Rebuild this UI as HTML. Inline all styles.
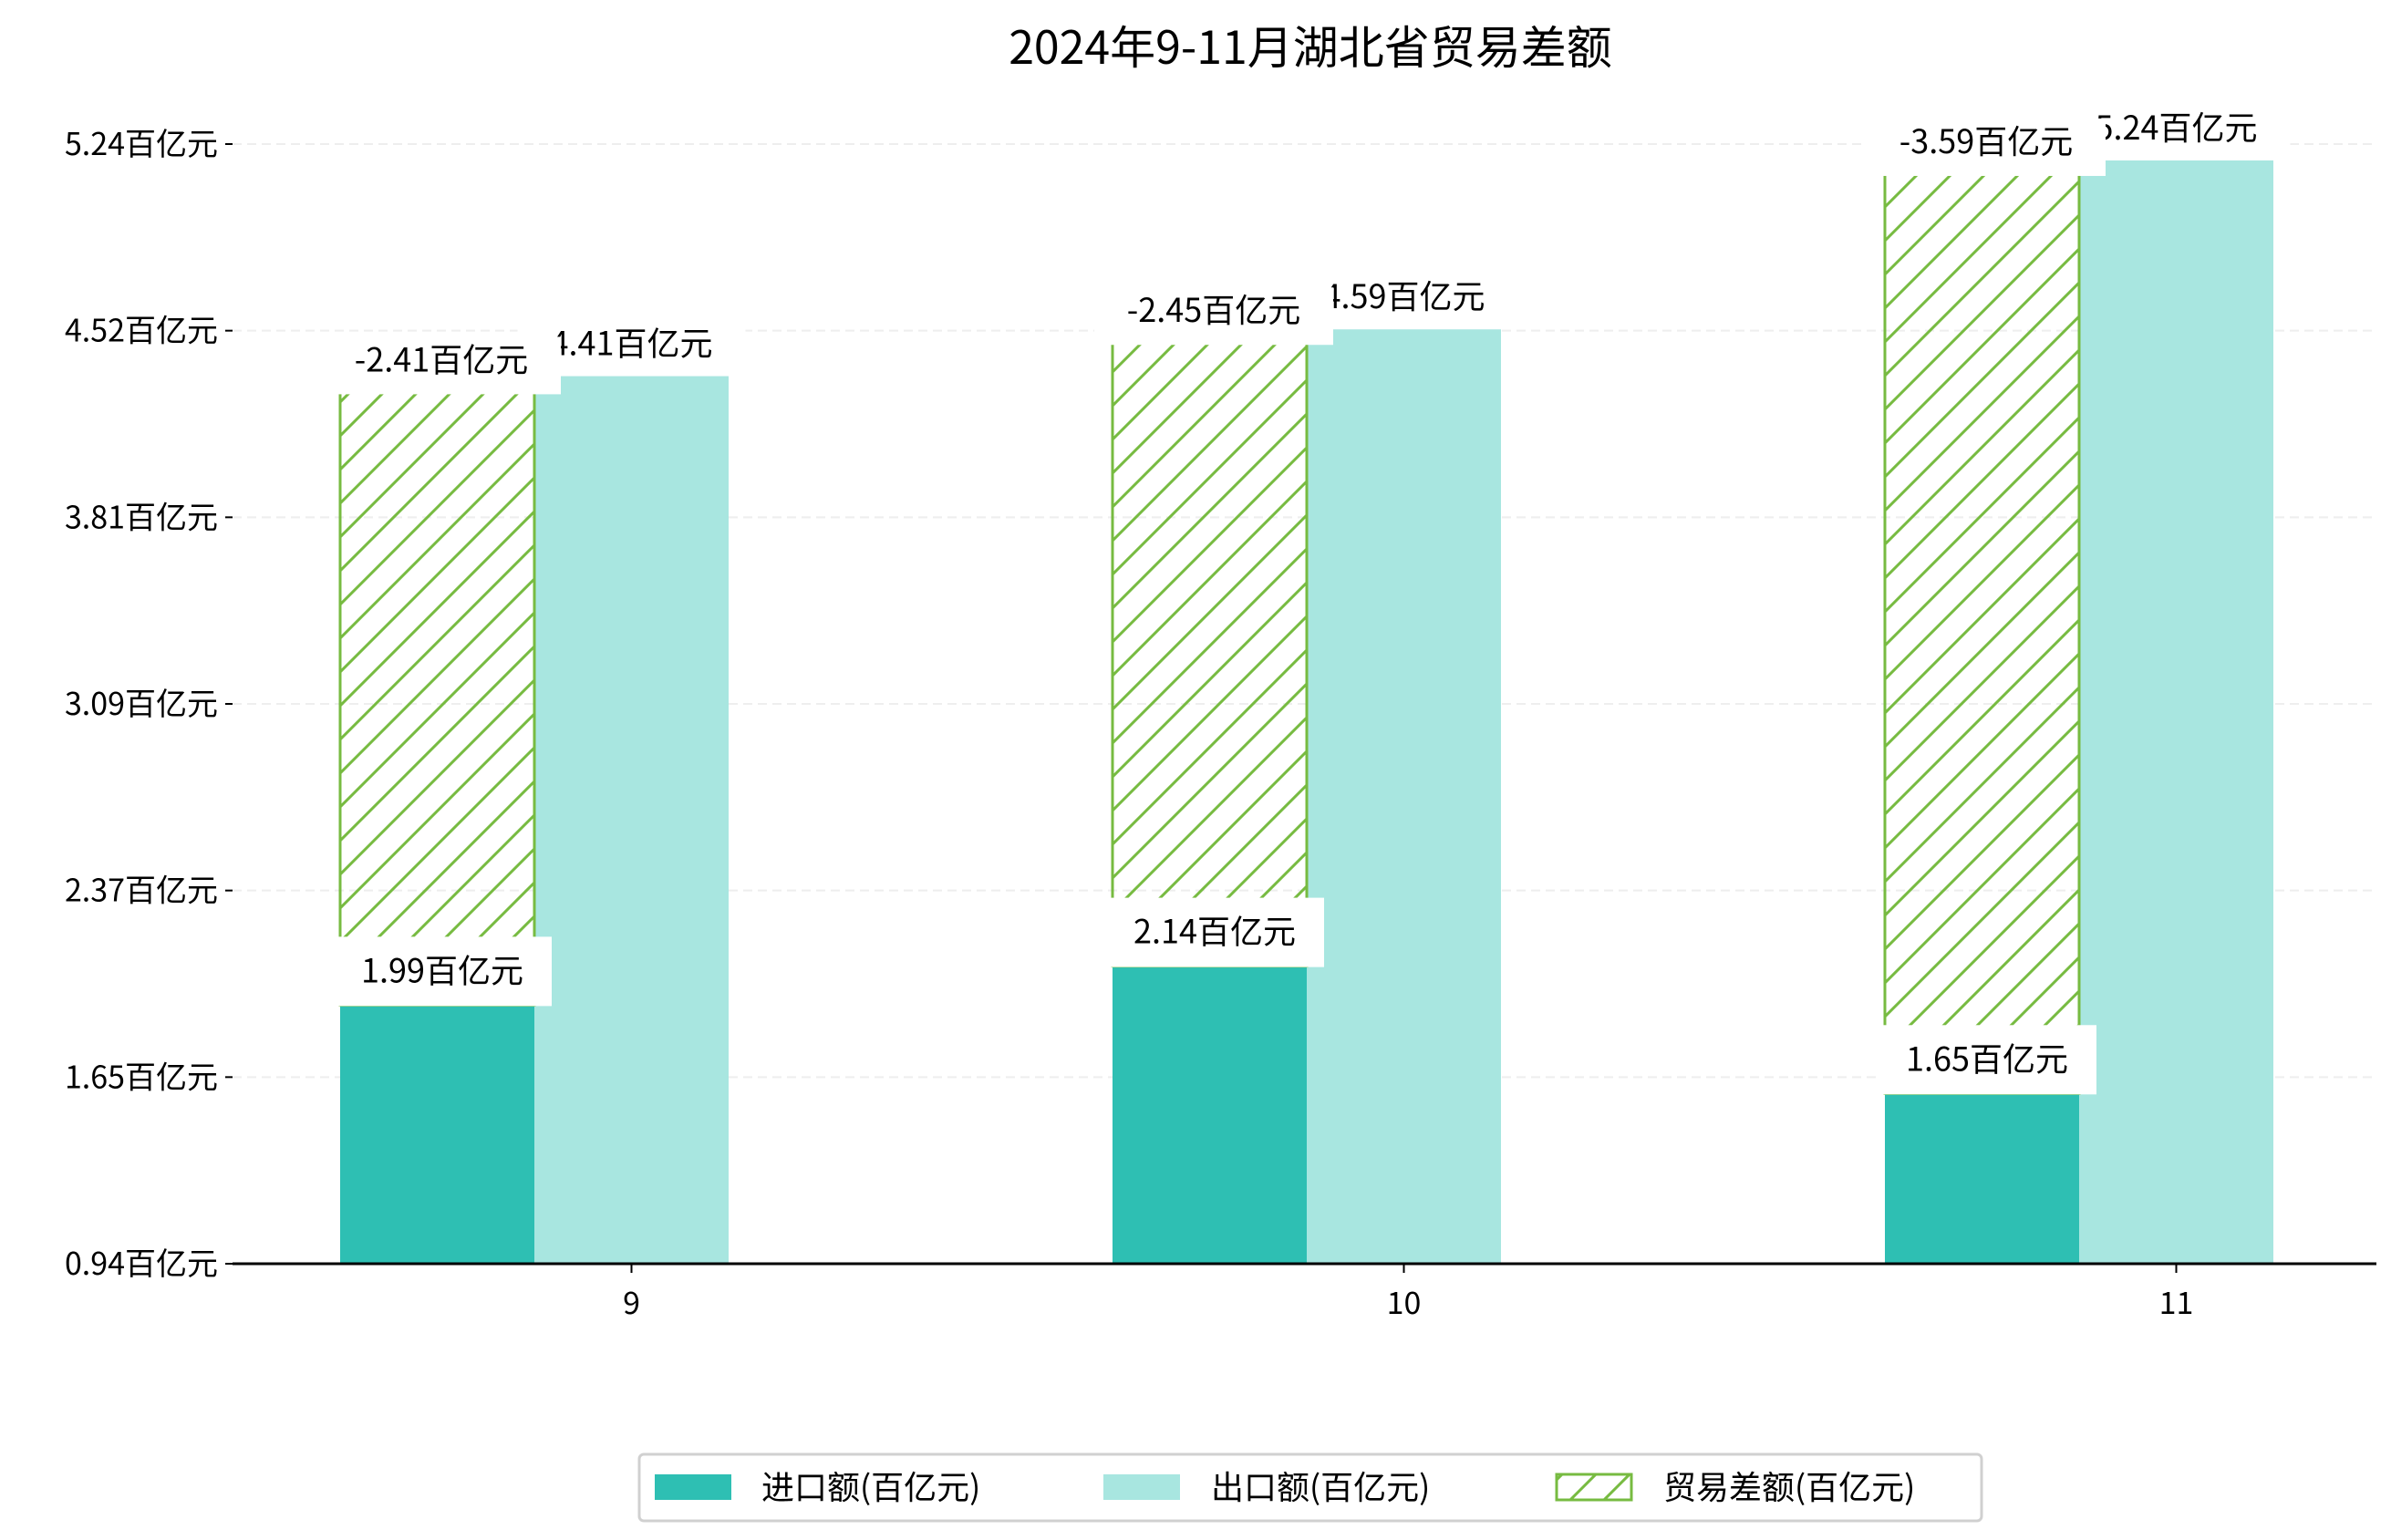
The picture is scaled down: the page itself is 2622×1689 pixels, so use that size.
<!DOCTYPE html>
<html><head><meta charset="utf-8">
<style>
html,body{margin:0;padding:0;background:#fff;}
svg{display:block;font-family:"WenQuanYi Zen Hei","Noto Sans CJK SC",sans-serif;}
</style></head>
<body>
<svg id="chart" width="2622" height="1689" viewBox="0 0 2622 1689" xmlns="http://www.w3.org/2000/svg">
<defs>
<pattern id="hatch" patternUnits="userSpaceOnUse" width="37" height="37">
<path d="M-5,42 L42,-5 M-5,5 L5,-5 M32,42 L42,32" stroke="#77bb41" stroke-width="3"/>
</pattern>
</defs>
<text x="1437" y="70" text-anchor="middle" font-size="50" fill="#000">2024年9-11月湖北省贸易差额</text>
<g id="grid"></g>
<g id="bars"></g>
<g id="labels"></g>
<g id="axes"></g>
<g>
<rect x="701" y="1595" width="1472" height="73" rx="5" fill="#fff" stroke="#d0d0d0" stroke-width="3"/>
<rect x="718" y="1617" width="84" height="28" fill="#2ebfb3"/>
<text x="835" y="1644" font-size="36">进口额(百亿元)</text>
<rect x="1210" y="1617" width="84" height="28" fill="#a8e6e0"/>
<text x="1328" y="1644" font-size="36">出口额(百亿元)</text>
<rect x="1707" y="1617" width="82" height="28" fill="url(#hatch)" stroke="#77bb41" stroke-width="3"/>
<text x="1824" y="1644" font-size="36">贸易差额(百亿元)</text>
</g>
</svg>
<script>
const categories = ["9", "10", "11"];
const importVals = [1.99, 2.14, 1.65];
const exportVals = [4.41, 4.59, 5.24];
const balanceVals = [-2.41, -2.45, -3.59];
const tickLabels = ["0.94百亿元","1.65百亿元","2.37百亿元","3.09百亿元","3.81百亿元","4.52百亿元","5.24百亿元"];

const NS = "http://www.w3.org/2000/svg";
const yMin = 0.995, yMax = 5.303;
const plotTop = 158, plotBottom = 1386, axisLeft = 255, axisRight = 2606;
function y(v){ return plotBottom - (v - yMin) / (yMax - yMin) * (plotBottom - plotTop); }
const groupStart = 373, groupStep = 847, barW = 213;
function xImport(i){ return groupStart + i * groupStep; }
function xExport(i){ return xImport(i) + barW; }
function mk(tag, attrs, parent){
  const e = document.createElementNS(NS, tag);
  for (const k in attrs) e.setAttribute(k, attrs[k]);
  parent.appendChild(e);
  return e;
}
const grid = document.getElementById('grid');
const bars = document.getElementById('bars');
const labels = document.getElementById('labels');
const axes = document.getElementById('axes');

tickLabels.forEach((t, i) => {
  const v = yMin + i * (yMax - yMin) / (tickLabels.length - 1);
  const yy = y(v);
  if (i > 0) {
    const g = mk('line', {x1: axisLeft, x2: axisRight, y1: yy, y2: yy, stroke: '#eeeeee', 'stroke-width': 2, 'stroke-dasharray': '10,6'}, grid);
    
    
  }
  const tk = mk('line', {x1: axisLeft - 8, x2: axisLeft, y1: yy, y2: yy, stroke: '#000', 'stroke-width': 2}, axes);
  
  
  const tl = mk('text', {x: 239, y: yy + 12, 'text-anchor': 'end', 'font-size': 34}, axes);
  tl.textContent = t;
  
  
});

function labelBox(text, cx, top, bottom, textY, w, name){
  const r = mk('rect', {x: cx - w/2, y: top, width: w, height: bottom - top, fill: '#fff'}, labels);
  
  
  const t = mk('text', {x: cx, y: textY + 12, 'text-anchor': 'middle', 'font-size': 36}, labels);
  t.textContent = text;
  
  
}

categories.forEach((c, i) => {
  const xi = xImport(i), xe = xExport(i);
  const bi = mk('rect', {x: xi, y: y(importVals[i]), width: barW, height: plotBottom - y(importVals[i]), fill: '#2ebfb3'}, bars);
  
  
  const be = mk('rect', {x: xe, y: y(exportVals[i]), width: barW, height: plotBottom - y(exportVals[i]), fill: '#a8e6e0'}, bars);
  
  
  const top = importVals[i] + Math.abs(balanceVals[i]);
  const bb = mk('rect', {x: xi, y: y(top), width: barW, height: y(importVals[i]) - y(top), fill: 'url(#hatch)', stroke: '#77bb41', 'stroke-width': 3}, bars);
  
  
  const tk = mk('line', {x1: xe + barW/2, x2: xe + barW/2, y1: plotBottom, y2: plotBottom + 10, stroke: '#000', 'stroke-width': 2}, axes);
  
  
  const xl = mk('text', {x: xe + barW/2, y: plotBottom + 55, 'text-anchor': 'middle', 'font-size': 34}, axes);
  xl.textContent = c;
  
  
});
categories.forEach((c, i) => {
  const t = y(exportVals[i]);
  labelBox(exportVals[i].toFixed(2) + '百亿元', xExport(i) + barW/2, t - 66, t - 8, t - 35, 250, 'label-export-' + c);
});
categories.forEach((c, i) => {
  const t = y(importVals[i] + Math.abs(balanceVals[i]));
  labelBox(balanceVals[i].toFixed(2) + '百亿元', xImport(i) + 111, t - 46, t + 17, t - 20, 262, 'label-balance-' + c);
  const ti = y(importVals[i]);
  labelBox(importVals[i].toFixed(2) + '百亿元', xImport(i) + 112, ti - 75, ti + 1, ti - 37, 240, 'label-import-' + c);
});
const ax = mk('line', {x1: axisLeft, x2: axisRight, y1: plotBottom, y2: plotBottom, stroke: '#000', 'stroke-width': 3}, axes);


</script>
</body></html>
